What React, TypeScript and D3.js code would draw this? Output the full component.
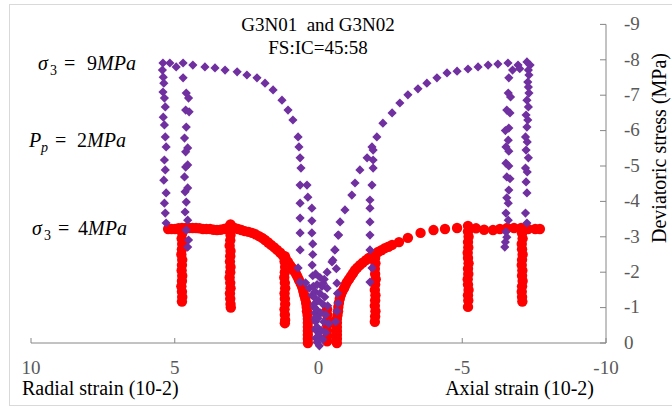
import React from 'react';
import * as d3 from 'd3';

type P = [number, number];

const xTicks = [10, 5, 0, -5, -10];
const yTicks = [0, -1, -2, -3, -4, -5, -6, -7, -8, -9];
const titleLines = ['G3N01\u00A0 and G3N02', 'FS:IC=45:58'];
const xTitleLeft = 'Radial strain (10-2)';
const xTitleRight = 'Axial strain (10-2)';
const yTitle = 'Deviatoric stress (MPa)';

// ---- sigma3 = 4 MPa (red circles) ----
const redRadialLoad: P[] = [
  [0.37, 0], [0.37, -0.12], [0.37, -0.23], [0.37, -0.34], [0.37, -0.45], [0.37, -0.57], [0.37, -0.68],
  [0.38, -0.79], [0.4, -0.9], [0.41, -1.02], [0.43, -1.13], [0.46, -1.25], [0.5, -1.36], [0.53, -1.47],
  [0.57, -1.58], [0.62, -1.68], [0.68, -1.78], [0.73, -1.87], [0.78, -1.95], [0.85, -2.04], [0.92, -2.12],
  [0.99, -2.2], [1.06, -2.29], [1.14, -2.38], [1.23, -2.46], [1.33, -2.55], [1.44, -2.63], [1.54, -2.7],
  [1.65, -2.77], [1.75, -2.84], [1.86, -2.91], [1.96, -2.97], [2.07, -3.02], [2.19, -3.07], [2.31, -3.11],
  [2.43, -3.14], [2.56, -3.16], [2.68, -3.19], [2.8, -3.22], [2.92, -3.25], [3.04, -3.28], [3.17, -3.25],
  [3.29, -3.22], [3.41, -3.2], [3.53, -3.19], [3.65, -3.2], [3.77, -3.22], [3.9, -3.22], [4.02, -3.22],
  [4.14, -3.24], [4.26, -3.25], [4.38, -3.25], [4.5, -3.25], [4.62, -3.25], [4.75, -3.25], [4.87, -3.24],
  [4.99, -3.22], [5.11, -3.22], [5.23, -3.22],
];
const redRadialDrop1: P[] = [
  [4.74, -3.1], [4.76, -2.95], [4.74, -2.8], [4.75, -2.65], [4.77, -2.5], [4.74, -2.35], [4.75, -2.2],
  [4.76, -2.05], [4.74, -1.9], [4.75, -1.75], [4.77, -1.6], [4.75, -1.45], [4.74, -1.3], [4.75, -1.17],
];
const redRadialDrop2: P[] = [
  [3.06, -3.35], [3.08, -3.2], [3.06, -3.05], [3.07, -2.9], [3.09, -2.75], [3.06, -2.6], [3.07, -2.45],
  [3.08, -2.3], [3.06, -2.15], [3.07, -2.0], [3.09, -1.85], [3.07, -1.7], [3.06, -1.55], [3.08, -1.4],
  [3.07, -1.25], [3.06, -1.1], [3.05, -1.0],
];
const redRadialDrop3: P[] = [
  [1.17, -2.45], [1.18, -2.3], [1.16, -2.15], [1.17, -2.0], [1.19, -1.85], [1.17, -1.7], [1.16, -1.55],
  [1.18, -1.4], [1.17, -1.25], [1.16, -1.1], [1.18, -0.95], [1.17, -0.8], [1.16, -0.65], [1.17, -0.56],
];
const redCenter: P[] = [
  [-0.3, -0.95], [-0.3, -0.8], [-0.31, -0.65], [-0.3, -0.5], [-0.3, -0.35], [-0.31, -0.2], [-0.3, -0.05],
];
const redAxialLoad: P[] = [
  [-0.64, 0], [-0.64, -0.12], [-0.64, -0.23], [-0.64, -0.34], [-0.64, -0.45], [-0.64, -0.57], [-0.64, -0.68],
  [-0.66, -0.79], [-0.68, -0.9], [-0.69, -1.02], [-0.71, -1.13], [-0.74, -1.25], [-0.78, -1.36],
  [-0.83, -1.46], [-0.89, -1.55], [-0.94, -1.64], [-0.99, -1.72], [-1.06, -1.8], [-1.13, -1.89],
  [-1.2, -1.97], [-1.27, -2.06], [-1.35, -2.13], [-1.44, -2.2], [-1.54, -2.27], [-1.65, -2.34],
  [-1.75, -2.4], [-1.86, -2.46], [-1.97, -2.51], [-2.07, -2.57], [-2.19, -2.62], [-2.31, -2.68],
  [-2.43, -2.72], [-2.56, -2.77], [-2.8, -2.85], [-3.11, -2.97], [-3.55, -3.11], [-4.0, -3.19],
  [-4.4, -3.22], [-4.82, -3.25], [-5.2, -3.31], [-5.48, -3.24], [-5.76, -3.2], [-6.07, -3.19],
  [-6.31, -3.22], [-6.56, -3.25], [-6.8, -3.25], [-7.05, -3.25], [-7.29, -3.22], [-7.54, -3.22],
  [-7.7, -3.22],
];
const redAxialDrop1: P[] = [
  [-1.97, -2.4], [-1.98, -2.25], [-1.96, -2.1], [-1.97, -1.95], [-1.99, -1.8], [-1.97, -1.65],
  [-1.96, -1.5], [-1.98, -1.35], [-1.97, -1.2], [-1.96, -1.05], [-1.98, -0.9], [-1.97, -0.75], [-1.96, -0.6],
];
const redAxialDrop2: P[] = [
  [-5.2, -3.15], [-5.22, -3.0], [-5.2, -2.85], [-5.21, -2.7], [-5.19, -2.55], [-5.2, -2.4], [-5.22, -2.25],
  [-5.2, -2.1], [-5.21, -1.95], [-5.19, -1.8], [-5.2, -1.65], [-5.22, -1.5], [-5.2, -1.35], [-5.21, -1.2],
  [-5.2, -1.02],
];
const redAxialDrop3: P[] = [
  [-7.08, -3.1], [-7.1, -2.95], [-7.07, -2.8], [-7.08, -2.65], [-7.1, -2.5], [-7.08, -2.35], [-7.07, -2.2],
  [-7.09, -2.05], [-7.08, -1.9], [-7.1, -1.75], [-7.08, -1.6], [-7.07, -1.45], [-7.08, -1.3], [-7.09, -1.17],
];

// ---- sigma3 = 9 MPa (purple diamonds) ----
const purpleRadialLoad: P[] = [
  [0.05, -0.1], [0.08, -0.35], [0.1, -0.6], [0.12, -0.85], [0.15, -1.1], [0.22, -1.35], [0.32, -1.55],
  [0.45, -1.7], [0.64, -1.72], [0.71, -2.12], [0.64, -2.63], [0.64, -3.11], [0.64, -3.53], [0.64, -3.95],
  [0.64, -4.46], [0.61, -4.94], [0.64, -5.23], [0.68, -5.54], [0.71, -5.82], [0.89, -6.3], [1.06, -6.58],
  [1.27, -6.86], [1.58, -7.15], [1.86, -7.34], [2.14, -7.49], [2.49, -7.57], [2.83, -7.66], [3.25, -7.71],
  [3.6, -7.77], [3.95, -7.8], [4.37, -7.85], [4.71, -7.91], [4.95, -7.8], [5.17, -7.91], [5.41, -7.91],
];
const purpleRadialCol1: P[] = [
  [5.43, -7.71], [5.4, -7.51], [5.38, -7.34], [5.41, -7.09], [5.36, -6.92], [5.33, -6.67], [5.4, -6.38],
  [5.36, -6.16], [5.33, -5.82], [5.3, -5.54], [5.36, -5.17], [5.33, -4.89], [5.38, -4.6], [5.3, -4.24],
  [5.36, -3.95], [5.33, -3.67], [5.3, -3.39],
];
const purpleRadialCol2: P[] = [
  [4.71, -7.49], [4.6, -7.06], [4.52, -6.92], [4.62, -6.58], [4.5, -6.53], [4.6, -6.1], [4.66, -5.79],
  [4.55, -5.51], [4.62, -5.4], [4.55, -5.03], [4.62, -4.97], [4.66, -4.69], [4.55, -4.38], [4.64, -4.27],
  [4.6, -3.98], [4.64, -3.7], [4.55, -3.47], [4.6, -3.19], [4.52, -2.91], [4.55, -2.71],
];
const purpleRadialInner: P[] = [
  [0.4, -4.46], [0.37, -4.12], [0.23, -3.81], [0.23, -3.45], [0.23, -3.11], [0.2, -2.8], [0.2, -2.5],
  [0.22, -2.2], [0.2, -1.9], [0.18, -1.6], [0.16, -1.3], [0.14, -1.0], [0.12, -0.7], [0.1, -0.4], [0.08, -0.15],
];
const purpleCenter: P[] = [
  [0.1, -1.95], [-0.05, -1.85], [-0.2, -1.8], [0.05, -1.65], [-0.12, -1.6], [-0.3, -1.55], [0.12, -1.45],
  [-0.05, -1.4], [-0.22, -1.3], [0.0, -1.2], [-0.15, -1.1], [-0.32, -1.05], [0.08, -0.95], [-0.08, -0.85],
  [-0.25, -0.8], [0.02, -0.7], [-0.18, -0.6], [-0.35, -0.55], [0.05, -0.45], [-0.1, -0.35], [-0.25, -0.3],
  [0.0, -0.2], [-0.15, -0.1], [0.05, -0.02], [-0.03, 0.08],
];
const purpleAxialLoad: P[] = [
  [-0.16, -1.69], [-0.3, -2.0], [-0.47, -2.29], [-0.57, -2.63], [-0.68, -3.05], [-0.75, -3.42],
  [-0.92, -3.76], [-1.16, -4.18], [-1.27, -4.52], [-1.44, -4.89], [-1.69, -5.23], [-1.86, -5.54],
  [-2.03, -5.82], [-2.24, -6.21], [-2.56, -6.5], [-2.83, -6.78], [-3.11, -7.01], [-3.46, -7.18],
  [-3.77, -7.34], [-4.12, -7.49], [-4.47, -7.63], [-4.82, -7.68], [-5.2, -7.74], [-5.55, -7.8],
  [-5.9, -7.85], [-6.24, -7.88], [-6.59, -7.91], [-6.75, -7.71], [-6.94, -7.85], [-7.0, -7.75],
  [-7.25, -7.94], [-7.36, -7.85],
];
const purpleAxialInner: P[] = [
  [-1.9, -5.45], [-1.9, -5.17], [-1.9, -4.94], [-1.86, -4.46], [-1.79, -4.04], [-1.79, -3.81],
  [-1.79, -3.42], [-1.79, -3.05], [-1.79, -2.63], [-1.86, -2.12], [-1.79, -1.72],
];
const purpleAxialNear: P[] = [
  [-0.7, -3.05], [-0.57, -2.63], [-0.5, -2.34], [-0.62, -2.1], [-0.64, -1.69], [-0.66, -1.4],
  [-0.68, -1.13], [-0.64, -0.9], [-0.6, -0.6],
];
const purpleAxialColA: P[] = [
  [-6.62, -7.49], [-6.6, -7.06], [-6.68, -6.95], [-6.55, -6.58], [-6.66, -6.5], [-6.62, -6.07],
  [-6.5, -6.0], [-6.6, -5.73], [-6.52, -5.54], [-6.62, -5.42], [-6.52, -5.08], [-6.62, -5.0],
  [-6.55, -4.69], [-6.66, -4.64], [-6.62, -4.32], [-6.55, -4.1], [-6.6, -3.95], [-6.52, -3.67],
  [-6.6, -3.47], [-6.52, -3.14], [-6.55, -2.99], [-6.5, -2.85], [-6.48, -2.71],
];
const purpleAxialColB: P[] = [
  [-7.3, -7.71], [-7.32, -7.57], [-7.28, -7.37], [-7.3, -7.23], [-7.32, -7.06], [-7.25, -6.86],
  [-7.3, -6.67], [-7.22, -6.44], [-7.28, -6.3], [-7.25, -6.1], [-7.2, -5.82], [-7.26, -5.68],
  [-7.22, -5.45], [-7.3, -5.23], [-7.2, -4.94], [-7.26, -4.83], [-7.22, -4.55], [-7.25, -4.24],
  [-7.2, -3.67], [-7.25, -3.39],
];

const redSeries = [
  redRadialLoad, redRadialDrop1, redRadialDrop2, redRadialDrop3, redCenter,
  redAxialLoad, redAxialDrop1, redAxialDrop2, redAxialDrop3,
];
const purpleSeries = [
  purpleRadialLoad, purpleRadialCol1, purpleRadialCol2, purpleRadialInner, purpleCenter,
  purpleAxialLoad, purpleAxialInner, purpleAxialNear, purpleAxialColA, purpleAxialColB,
];

const RED = '#FF0000';
const PURPLE = '#7030A0';
const AXIS = '#868686';
const TICKTXT = '#595959';

type AnnPart = { t: string; x: number; italic?: boolean; sub?: boolean };
const annotations: { y: number; parts: AnnPart[] }[] = [
  { y: 70, parts: [{ t: 'σ', x: 38, italic: true }, { t: '3', x: 50, sub: true }, { t: '=', x: 64 }, { t: '9', x: 87 }, { t: 'MPa', x: 97, italic: true }] },
  { y: 147, parts: [{ t: 'P', x: 29, italic: true }, { t: 'p', x: 41, italic: true, sub: true }, { t: '=', x: 55 }, { t: '2', x: 77 }, { t: 'MPa', x: 87, italic: true }] },
  { y: 235, parts: [{ t: 'σ', x: 32, italic: true }, { t: '3', x: 44, sub: true }, { t: '=', x: 58 }, { t: '4', x: 78 }, { t: 'MPa', x: 88, italic: true }] },
];

export default function App() {
  const x = d3.scaleLinear().domain([10, -10]).range([31, 606]);
  const y = d3.scaleLinear().domain([0, -9]).range([343, 24.4]);
  const h = 4.6;
  const diamond = `M0,${-h}L${h},0L0,${h}L${-h},0Z`;
  const font = "'Liberation Serif', 'Times New Roman', serif";

  return (
    <svg width={672} height={408} style={{ position: 'absolute', left: 0, top: 0, background: '#fff' }}
      fontFamily={font}>
      <rect x={9.5} y={4.5} width={700} height={401} fill="#fff" stroke="#d9d9d9" strokeWidth={1} />

      {/* X axis */}
      <line x1={x(10)} x2={x(-10)} y1={y(0)} y2={y(0)} stroke={AXIS} strokeWidth={1} />
      {xTicks.map((t) => (
        <g key={`xt${t}`}>
          <line x1={x(t)} x2={x(t)} y1={y(0)} y2={y(0) - 5} stroke={AXIS} />
          <text x={x(t)} y={374} textAnchor="middle" fontSize={19} fill={TICKTXT}>{t}</text>
        </g>
      ))}

      {/* Right Y axis */}
      <line x1={x(-10)} x2={x(-10)} y1={y(0)} y2={y(-9)} stroke={AXIS} strokeWidth={1} />
      {yTicks.map((t) => (
        <g key={`yt${t}`}>
          <line x1={x(-10) - 6} x2={x(-10)} y1={y(t)} y2={y(t)} stroke={AXIS} />
          <text x={624} y={y(t)} dy="0.3em" fontSize={19} fill={TICKTXT}>{t}</text>
        </g>
      ))}

      {/* data */}
      <g>
        {redSeries.map((s, si) =>
          s.map((d, i) => (
            <circle key={`r${si}-${i}`} cx={x(d[0])} cy={y(d[1])} r={5.2} fill={RED} />
          ))
        )}
      </g>
      <g>
        {purpleSeries.map((s, si) =>
          s.map((d, i) => (
            <path key={`p${si}-${i}`} d={diamond} transform={`translate(${x(d[0])},${y(d[1])})`} fill={PURPLE} />
          ))
        )}
      </g>

      {/* titles */}
      <text x={318} y={31} textAnchor="middle" fontSize={19} fill="#000">{titleLines[0]}</text>
      <text x={318} y={54} textAnchor="middle" fontSize={19} fill="#000">{titleLines[1]}</text>
      <text x={22} y={395} fontSize={20} fill="#000">{xTitleLeft}</text>
      <text x={594} y={395} textAnchor="end" fontSize={20} fill="#000">{xTitleRight}</text>
      <text transform="translate(666,148) rotate(-90)" textAnchor="middle" fontSize={20} fill="#000">{yTitle}</text>

      {/* annotations */}
      {annotations.map((a, ai) => (
        <text key={`ann${ai}`} y={a.y} fontSize={20} fill="#000">
          {a.parts.map((p, pi) => (
            <tspan key={pi} x={p.x} y={p.sub ? a.y + 5 : a.y} fontSize={p.sub ? 14 : 20}
              fontStyle={p.italic ? 'italic' : 'normal'}>{p.t}</tspan>
          ))}
        </text>
      ))}
    </svg>
  );
}
